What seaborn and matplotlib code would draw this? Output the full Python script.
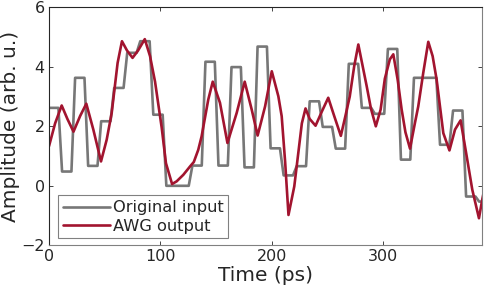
import numpy as np
import pandas as pd
import seaborn as sns
import matplotlib
matplotlib.use("Agg")
import matplotlib.pyplot as plt

# symbol levels of the original (stepped) input
symbol_levels = [2.62, 0.48, 3.63, 0.67, 2.17, 3.29, 4.47, 4.86, 2.39, 0.0,
                 0.0, 0.68, 4.17, 0.68, 3.99, 0.62, 4.68, 1.26, 0.35, 0.66,
                 2.84, 1.98, 1.25, 4.10, 2.62, 2.42, 4.60, 0.88, 3.63, 3.63,
                 1.38, 2.53, -0.36, -0.53]
symbol_period = 11.7   # ps
first_edge = 10.1      # ps, first symbol boundary
edge_ramp = 3.3        # ps, rise/fall time of the steps

# AWG output
awg_time = [0, 5.5, 11.4, 16.5, 22, 28, 33.5, 39.8, 46.7, 51.8, 56.3, 61.6,
            65.5, 70, 75, 80, 86, 90.7, 95.2, 101.2, 105, 110.5, 114.6, 120.6,
            126.6, 130, 134, 137, 143, 147, 153.5, 160.2, 168.5, 175.7, 182,
            187.3, 194, 200, 205.9, 208.9, 212, 215, 220.2, 223.8, 227, 230.3,
            234, 239.3, 245, 250.7, 256.1, 262, 265.7, 270, 274, 277.7, 281.6,
            285.2, 289, 293.4, 297.7, 301.5, 306, 309.1, 313, 316.6, 320,
            324.1, 328.5, 331.5, 336, 340.5, 344.4, 348, 354, 359.5, 364.5,
            369.5, 375, 380, 386, 389, 392]
awg_level = [1.33, 2.10, 2.70, 2.25, 1.82, 2.35, 2.76, 1.89, 0.82, 1.55, 2.45,
             4.13, 4.86, 4.55, 4.30, 4.55, 4.93, 4.36, 3.50, 1.95, 0.76, 0.06,
             0.15, 0.37, 0.65, 0.80, 1.21, 1.66, 2.90, 3.50, 2.79, 1.44, 2.45,
             3.50, 2.56, 1.69, 2.67, 3.85, 3.01, 2.34, 0.80, -0.98, -0.02, 1.10,
             2.10, 2.60, 2.25, 2.02, 2.50, 2.96, 2.34, 1.68, 2.28, 3.00, 4.02,
             4.75, 4.02, 3.35, 2.60, 2.00, 2.56, 3.60, 4.25, 4.42, 3.57, 2.56,
             1.80, 1.25, 2.11, 2.67, 3.80, 4.84, 4.36, 3.57, 1.77, 1.19, 1.89,
             2.20, 0.99, -0.13, -1.09, -0.45, 0.10]

x_ticks = [0, 100, 200, 300]
y_ticks = [-2, 0, 2, 4, 6]

# build the stepped input: flat top for each symbol, linear edges between
step_t, step_v = [], []
for k, v in enumerate(symbol_levels):
    start = first_edge + (k - 1) * symbol_period
    end = start + symbol_period
    step_t += [max(start + edge_ramp / 2, 0), end - edge_ramp / 2]
    step_v += [v, v]
step_df = pd.DataFrame({"t": step_t, "v": step_v})
awg_df = pd.DataFrame({"t": awg_time, "v": awg_level})

sns.set_style("ticks")
plt.rcParams["font.family"] = ["DejaVu Sans"]

fig, ax = plt.subplots(figsize=(4.86, 2.98), dpi=100)
fig.subplots_adjust(left=0.1008, right=0.9924, top=0.9755, bottom=0.1768)

sns.lineplot(data=step_df, x="t", y="v", ax=ax, color="#777777",
             linewidth=1.9, estimator=None, sort=False, label="Original input")
sns.lineplot(data=awg_df, x="t", y="v", ax=ax, color="#A2142F",
             linewidth=1.9, estimator=None, sort=False, label="AWG output")

ax.set_xlim(0, 389)
ax.set_ylim(-2, 6)
ax.set_xticks(x_ticks)
ax.set_yticks(y_ticks)
ax.set_xlabel("Time (ps)", fontsize=14.5, labelpad=1)
ax.set_ylabel("Amplitude (arb. u.)", fontsize=14.5, labelpad=1)
ax.tick_params(direction="in", length=3, width=0.6, top=True, right=True,
               labelsize=11.5, colors="#262626", pad=3)
for side in ["left", "top"]:
    ax.spines[side].set_color("#262626")
for side in ["right", "bottom"]:
    ax.spines[side].set_color("#808080")
for s in ax.spines.values():
    s.set_linewidth(0.8)

leg = ax.legend(loc="lower left", bbox_to_anchor=(0.021, 0.029),
                borderaxespad=0, fontsize=11.7, handlelength=2.9,
                handletextpad=0.15, labelspacing=0.2, borderpad=0.3,
                fancybox=False, framealpha=1, edgecolor="#808080")
leg.get_frame().set_linewidth(0.8)

plt.savefig("out.png", dpi=100)
